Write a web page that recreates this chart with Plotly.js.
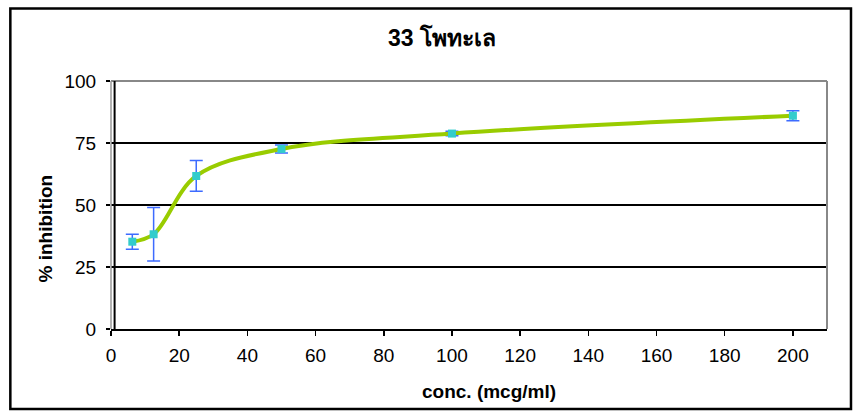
<!DOCTYPE html>
<html>
<head>
<meta charset="utf-8">
<script src="https://cdn.plot.ly/plotly-3.0.1.min.js"></script>
<style>html,body{margin:0;padding:0;background:#fff;}#chart{width:858px;height:417px;}</style>
</head>
<body>
<div id="chart"></div>
<script>
var conc = [6.25, 12.5, 25, 50, 100, 200];
var inhibition = [35.2, 38.2, 61.7, 72.6, 78.8, 86.0];
var errors = [3.0, 10.8, 6.2, 1.6, 0.9, 2.0];
var xTicks = [0, 20, 40, 60, 80, 100, 120, 140, 160, 180, 200];
var yTicks = [0, 25, 50, 75, 100];
var titleText = "33 โพทะเล";
var xTitle = "conc. (mcg/ml)";
var yTitle = "% inhibition";

var W = 858, H = 417;
var L = 110.7, R = 827, T = 80.7, B = 329;
var pw = R - L, ph = B - T;
function px(xp){ return (xp - L) / pw; }
function py(yp){ return (B - yp) / ph; }

var trace = {
  x: conc, y: inhibition,
  type: 'scatter', mode: 'lines+markers',
  line: {color: '#99cc00', width: 4, shape: 'spline', smoothing: 1},
  marker: {symbol: 'square', size: 8, color: '#33cccc'},
  error_y: {type: 'data', array: errors, visible: true, color: '#3d6bff', thickness: 1.5, width: 6.5},
  hoverinfo: 'none'
};

var layout = {
  width: W, height: H,
  margin: {l: L, r: W - R, t: T, b: H - B, pad: 0},
  paper_bgcolor: '#ffffff', plot_bgcolor: '#ffffff',
  showlegend: false,
  font: {family: 'Arial, "Liberation Sans", sans-serif', color: '#000', size: 19},
  title: {text: '<b>' + titleText + '</b>', x: 442 / W, xref: 'container', xanchor: 'center', y: 1 - 38 / H, yanchor: 'middle', yref: 'container', font: {size: 23, color: '#000'}},
  xaxis: {
    range: [0, 210], tickvals: xTicks, ticktext: xTicks.map(String),
    showgrid: false, zeroline: false, showline: true, linecolor: '#000', linewidth: 2,
    ticks: 'outside', ticklen: 5, tickcolor: '#000', tickwidth: 1.5,
    tickfont: {size: 19}, ticklabelstandoff: 3, fixedrange: true
  },
  yaxis: {
    range: [0, 100], tickvals: yTicks, ticktext: yTicks.map(String),
    showgrid: true, gridcolor: '#000', gridwidth: 2, zeroline: false,
    showline: false,
    ticks: 'outside', ticklen: 4, tickcolor: '#000', tickwidth: 1.5,
    tickfont: {size: 19}, ticklabelstandoff: 6, fixedrange: true
  },
  shapes: [
    {type: 'line', xref: 'paper', yref: 'paper', x0: 0, x1: 1, y0: 1, y1: 1, line: {color: '#888', width: 2}},
    {type: 'line', xref: 'paper', yref: 'paper', x0: 1, x1: 1, y0: 0, y1: 1, line: {color: '#888', width: 2}},
    {type: 'line', xref: 'paper', yref: 'paper', x0: 0, x1: 0, y0: 0, y1: 1, line: {color: '#999', width: 1.5}},
    {type: 'line', xref: 'paper', yref: 'paper', x0: px(114.3), x1: px(114.3), y0: 0, y1: 1, line: {color: '#000', width: 2}},
    {type: 'rect', xref: 'paper', yref: 'paper', x0: px(10), x1: px(851), y0: py(409), y1: py(8), line: {color: '#000', width: 2.5}, fillcolor: 'rgba(0,0,0,0)', layer: 'below'}
  ],
  annotations: [
    {text: '<b>' + xTitle + '</b>', xref: 'paper', yref: 'paper', x: px(489), y: py(392), showarrow: false, xanchor: 'center', yanchor: 'middle', font: {size: 19}},
    {text: '<b>' + yTitle + '</b>', xref: 'paper', yref: 'paper', x: px(45), y: py(228), showarrow: false, textangle: -90, xanchor: 'center', yanchor: 'middle', font: {size: 19}}
  ]
};

Plotly.newPlot('chart', [trace], layout, {displayModeBar: false, staticPlot: true});
</script>
</body>
</html>
